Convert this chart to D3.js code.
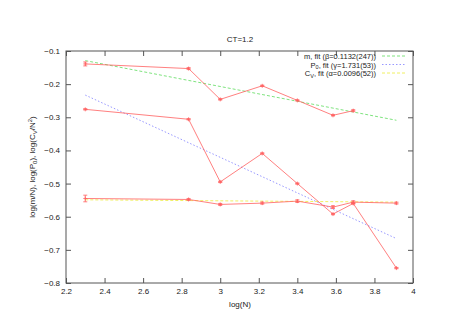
<!DOCTYPE html>
<html>
<head>
  <meta charset="utf-8">
  <script src="https://d3js.org/d3.v7.min.js"></script>
  <style>
    body { margin: 0; background: #fff; }
    text { font-family: "Liberation Sans", Arial, sans-serif; fill: #222; }
  </style>
</head>
<body>
<script>
  "use strict";
  // log(N) positions
  var logN = [2.30, 2.836, 3.0, 3.218, 3.40, 3.585, 3.69, 3.914];

  // series values (log scale)
  var mVals  = [-0.139, -0.153, -0.246, -0.205, -0.249, -0.294, -0.280];
  var mErr   = [0.006, 0.003, 0.002, 0.002, 0.002, 0.002, 0.003];
  var p0Vals = [-0.276, -0.306, -0.495, -0.409, -0.500, -0.592, -0.560, -0.755];
  var p0Err  = [0.002, 0.002, 0.002, 0.002, 0.002, 0.002, 0.002, 0.002];
  var cvVals = [-0.545, -0.548, -0.563, -0.559, -0.553, -0.571, -0.556, -0.559];
  var cvErr  = [0.010, 0.003, 0.003, 0.003, 0.004, 0.004, 0.004, 0.003];

  // fit lines: endpoints [x, y]
  var mFit  = [[2.30, -0.129], [3.914, -0.309]];
  var p0Fit = [[2.30, -0.233], [3.914, -0.666]];
  var cvFit = [[2.30, -0.549], [3.914, -0.556]];

  var legendLabels = [
    {main: "m", sub: "", rest: ", fit (\u03b2=0.1132(247))"},
    {main: "P", sub: "0", rest: ", fit (\u03b3=1.731(53))"},
    {main: "C", sub: "V", rest: ", fit (\u03b1=0.0096(52))"}
  ];

  var xTicks = [2.2, 2.4, 2.6, 2.8, 3, 3.2, 3.4, 3.6, 3.8, 4];
  var yTicks = [-0.1, -0.2, -0.3, -0.4, -0.5, -0.6, -0.7, -0.8];

  var W = 468, H = 331;
  var pl = 66, pr = 413, pt = 51, pb = 283;

  var svg = d3.select("body").append("svg")
      .attr("width", W).attr("height", H);

  var x = d3.scaleLinear().domain([2.2, 4]).range([pl, pr]);
  var y = d3.scaleLinear().domain([-0.8, -0.1]).range([pb, pt]);

  var red = "#ff6060";

  // frame
  svg.append("rect")
      .attr("x", pl).attr("y", pt)
      .attr("width", pr - pl).attr("height", pb - pt)
      .attr("fill", "none").attr("stroke", "#555").attr("stroke-width", 1);

  var tl = 5;
  // bottom axis
  var xb = svg.append("g").attr("transform", "translate(0," + pb + ")")
      .call(d3.axisBottom(x).tickValues(xTicks).tickSizeInner(-tl).tickSizeOuter(0).tickPadding(5)
        .tickFormat(d3.format("")));
  // top ticks
  var xt = svg.append("g").attr("transform", "translate(0," + pt + ")")
      .call(d3.axisTop(x).tickValues(xTicks).tickSizeInner(-tl).tickSizeOuter(0).tickFormat(""));
  // left axis
  var yl = svg.append("g").attr("transform", "translate(" + pl + ",0)")
      .call(d3.axisLeft(y).tickValues(yTicks).tickSizeInner(-tl).tickSizeOuter(0).tickPadding(6)
        .tickFormat(d3.format("")));
  // right ticks
  var yr = svg.append("g").attr("transform", "translate(" + pr + ",0)")
      .call(d3.axisRight(y).tickValues(yTicks).tickSizeInner(-tl).tickSizeOuter(0).tickFormat(""));

  [xb, xt, yl, yr].forEach(function (g) {
    g.select(".domain").remove();
    g.selectAll(".tick line").attr("stroke", "#555");
    g.selectAll(".tick text").attr("font-size", 8).attr("fill", "#222")
      .style("font-family", "Liberation Sans, Arial, sans-serif");
  });

  // titles
  svg.append("text").attr("x", 240).attr("y", 42).attr("text-anchor", "middle")
      .attr("font-size", 8).text("CT=1.2");
  svg.append("text").attr("x", 240).attr("y", 307).attr("text-anchor", "middle")
      .attr("font-size", 8).text("log(N)");

  var yLab = svg.append("text")
      .attr("transform", "translate(35,167) rotate(-90)")
      .attr("text-anchor", "middle").attr("font-size", 8);
  yLab.append("tspan").text("log(m/N), log(P");
  yLab.append("tspan").attr("font-size", 6).attr("dy", 2).text("0");
  yLab.append("tspan").attr("dy", -2).text("), log(C");
  yLab.append("tspan").attr("font-size", 6).attr("dy", 2).text("V");
  yLab.append("tspan").attr("dy", -2).text("/N");
  yLab.append("tspan").attr("font-size", 6).attr("dy", -3).text("2");
  yLab.append("tspan").attr("dy", 3).text(")");

  var line = d3.line().x(function (d) { return x(d[0]); }).y(function (d) { return y(d[1]); });

  // fit lines
  var fits = [
    {pts: mFit, color: "#70e070", dash: "3,2"},
    {pts: p0Fit, color: "#8c8cff", dash: "1.5,2"},
    {pts: cvFit, color: "#eeee50", dash: "3,2"}
  ];
  fits.forEach(function (f) {
    svg.append("path").attr("d", line(f.pts))
        .attr("fill", "none").attr("stroke", f.color).attr("stroke-width", 0.9)
        .attr("stroke-dasharray", f.dash);
  });

  // data series
  var series = [
    {vals: mVals, err: mErr},
    {vals: p0Vals, err: p0Err},
    {vals: cvVals, err: cvErr}
  ];
  series.forEach(function (s) {
    var pts = s.vals.map(function (v, i) { return [logN[i], v, s.err[i]]; });
    svg.append("path").attr("d", line(pts))
        .attr("fill", "none").attr("stroke", red).attr("stroke-width", 0.8);
    var g = svg.append("g").attr("stroke", red).attr("stroke-width", 0.8);
    pts.forEach(function (p) {
      var cx = x(p[0]), cy = y(p[1]);
      var y1 = y(p[1] + p[2]), y2 = y(p[1] - p[2]);
      g.append("line").attr("x1", cx).attr("x2", cx).attr("y1", y1).attr("y2", y2);
      g.append("line").attr("x1", cx - 2).attr("x2", cx + 2).attr("y1", y1).attr("y2", y1);
      g.append("line").attr("x1", cx - 2).attr("x2", cx + 2).attr("y1", y2).attr("y2", y2);
      // '+' marker
      g.append("line").attr("x1", cx - 2).attr("x2", cx + 2).attr("y1", cy).attr("y2", cy);
      g.append("line").attr("x1", cx).attr("x2", cx).attr("y1", cy - 2).attr("y2", cy + 2);
    });
  });

  // legend
  var lx = 376, ly = 59, dy = 8.5;
  legendLabels.forEach(function (l, i) {
    var t = svg.append("text").attr("x", lx).attr("y", ly + i * dy)
        .attr("text-anchor", "end").attr("font-size", 7.5);
    t.append("tspan").text(l.main);
    if (l.sub) {
      t.append("tspan").attr("font-size", 5.5).attr("dy", 1.5).text(l.sub);
      t.append("tspan").attr("dy", -1.5).text(l.rest);
    } else {
      t.append("tspan").text(l.rest);
    }
    svg.append("line").attr("x1", 382).attr("x2", 405)
        .attr("y1", ly - 3 + i * dy).attr("y2", ly - 3 + i * dy)
        .attr("stroke", fits[i].color).attr("stroke-width", 0.9)
        .attr("stroke-dasharray", fits[i].dash);
  });
</script>
</body>
</html>
